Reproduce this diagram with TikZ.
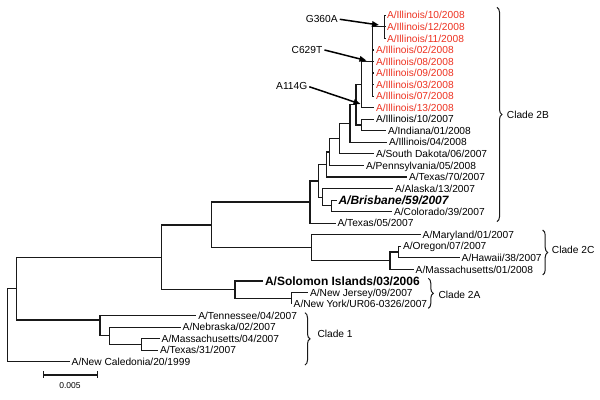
\documentclass[tikz,border=0pt]{standalone}
\usepackage{fontspec}
\setmainfont{Liberation Sans}
\usetikzlibrary{arrows.meta,decorations.pathreplacing}
\definecolor{illred}{RGB}{238,52,35}
\definecolor{treeline}{RGB}{25,25,25}
\newcommand\leaffont{\fontsize{10.2}{12}\selectfont}
\newcommand\bigleaffont{\fontsize{12}{14}\selectfont\bfseries}
\newcommand\barfont{\fontsize{8.5}{10}\selectfont}
\begin{document}
\begin{tikzpicture}[x=1pt,y=-11.55pt,
  leaf/.style={anchor=west,inner sep=0pt,outer xsep=2pt,font=\leaffont,text height=7.3pt,text depth=0pt},
  hl/.style={leaf,text=illred},
  bigleaf/.style={leaf,font=\bigleaffont,text height=8.6pt},
  br/.style={line width=1.2pt,draw=treeline},
  lab/.style={inner sep=0pt,font=\leaffont,text height=7.3pt,text depth=0pt},
  cladelab/.style={lab,anchor=west},
  arr/.style={line width=1.5pt,-{Triangle[length=7pt,width=5.5pt]},shorten <=2pt},
  clbrace/.style={decorate,decoration={brace,amplitude=5pt},line width=1pt,draw=treeline}]
\useasboundingbox[fill=white] (0,-0.3247) rectangle (600,34.307);

% ---- leaves ----
\node[hl] (l1) at (385,1) {A/Illinois/10/2008};
\node[hl] (l2) at (385,2) {A/Illinois/12/2008};
\node[hl] (l3) at (385,3) {A/Illinois/11/2008};
\node[hl] (l4) at (374,4) {A/Illinois/02/2008};
\node[hl] (l5) at (374,5) {A/Illinois/08/2008};
\node[hl] (l6) at (374,6) {A/Illinois/09/2008};
\node[hl] (l7) at (374,7) {A/Illinois/03/2008};
\node[hl] (l8) at (374,8) {A/Illinois/07/2008};
\node[hl] (l9) at (374,9) {A/Illinois/13/2008};
\node[leaf] (l10) at (374,10) {A/Illinois/10/2007};
\node[leaf] (l11) at (386,11) {A/Indiana/01/2008};
\node[leaf] (l12) at (387,12) {A/Illinois/04/2008};
\node[leaf] (l13) at (374,13) {A/South Dakota/06/2007};
\node[leaf] (l14) at (364,14) {A/Pennsylvania/05/2008};
\node[leaf] (l15) at (407,15) {A/Texas/70/2007};
\node[leaf] (l16) at (393,16) {A/Alaska/13/2007};
\node[bigleaf,font=\bigleaffont\itshape] (l17) at (336.5,17) {A/Brisbane/59/2007};
\node[leaf] (l18) at (392,18) {A/Colorado/39/2007};
\node[leaf] (l19) at (335.5,19) {A/Texas/05/2007};
\node[leaf] (l20) at (420.7,20) {A/Maryland/01/2007};
\node[leaf] (l21) at (401,21) {A/Oregon/07/2007};
\node[leaf] (l22) at (459.7,22) {A/Hawaii/38/2007};
\node[leaf] (l23) at (413.7,23) {A/Massachusetts/01/2008};
\node[bigleaf] (l24) at (263,24) {A/Solomon Islands/03/2006};
\node[leaf] (l25) at (308,25) {A/New Jersey/09/2007};
\node[leaf] (l26) at (291.7,26) {A/New York/UR06-0326/2007};
\node[leaf] (l27) at (196.3,27) {A/Tennessee/04/2007};
\node[leaf] (l28) at (180.7,28) {A/Nebraska/02/2007};
\node[leaf] (l29) at (159.7,29) {A/Massachusetts/04/2007};
\node[leaf] (l30) at (158,30) {A/Texas/31/2007};
\node[leaf] (l31) at (69.7,31) {A/New Caledonia/20/1999};

% ---- internal nodes ----
\coordinate (G) at (384.5,2);
\coordinate (N8) at (372.3,5);
\coordinate (C) at (361.7,7);
\coordinate (P) at (361.7,10.5);
\coordinate (Q) at (356,8.75);
\coordinate (R) at (350,10.375);
\coordinate (S) at (339.3,11.69);
\coordinate (T) at (329.3,12.84);
\coordinate (U) at (326.7,13.92);
\coordinate (X) at (331.7,17.5);
\coordinate (W) at (322.7,16.75);
\coordinate (Y) at (318.3,15.34);
\coordinate (Z) at (310,17.17);
\coordinate (OH) at (398.3,21.5);
\coordinate (M) at (390,22.25);
\coordinate (C2C) at (311.7,21.125);
\coordinate (K) at (211.7,19.15);
\coordinate (NN) at (291.7,25.5);
\coordinate (A2) at (235,24.75);
\coordinate (H) at (161.7,21.95);
\coordinate (Cc) at (141.7,29.5);
\coordinate (B) at (109.3,28.75);
\coordinate (A1) at (100,27.375);
\coordinate (I) at (16.7,24.66);
\coordinate (Root) at (7.3,27.83);

% ---- branches to leaves ----
\foreach \p/\c in {G/l1,G/l2,G/l3,N8/l4,N8/l5,N8/l6,N8/l7,N8/l8,C/l9,P/l10,P/l11,
  R/l12,S/l13,T/l14,U/l15,W/l16,X/l17,X/l18,Z/l19,C2C/l20,OH/l21,OH/l22,M/l23,
  A2/l24,NN/l25,NN/l26,A1/l27,B/l28,Cc/l29,Cc/l30,Root/l31}
  \draw[br] (\p) |- (\c.west);
% ---- internal branches ----
\foreach \p/\c in {N8/G,C/N8,Q/C,Q/P,R/Q,S/R,T/S,U/T,Y/U,W/X,Y/W,Z/Y,M/OH,C2C/M,
  K/Z,K/C2C,A2/NN,H/K,H/A2,B/Cc,A1/B,I/H,I/A1,Root/I}
  \draw[br] (\p) |- (\c);

% ---- mutation arrows ----
\node[lab] (g360) at (321.7,1.32) {G360A};
\node[lab] (c629) at (307,3.96) {C629T};
\node[lab] (a114) at (291.7,7.13) {A114G};
\coordinate (tG) at (379,1.84);
\coordinate (tC) at (366.5,4.92);
\coordinate (tA) at (360.5,8.68);
\draw[arr] (g360.east) -- (tG);
\draw[arr] (c629.east) -- (tC);
\draw[arr] (a114.east) -- (tA);

% ---- clade braces ----
\coordinate (b2Bt) at (497,0.308);
\coordinate (b2Bb) at (497,18.87);
\coordinate (b2Ct) at (542.7,19.59);
\coordinate (b2Cb) at (542.7,23.48);
\coordinate (b2At) at (428.3,23.77);
\coordinate (b2Ab) at (428.3,26.37);
\coordinate (b1t) at (305,26.75);
\coordinate (b1b) at (305,31.28);
\draw[clbrace] (b2Bt) -- (b2Bb);
\draw[clbrace] (b2Ct) -- (b2Cb);
\draw[clbrace] (b2At) -- (b2Ab);
\draw[clbrace] (b1t) -- (b1b);
\node[cladelab] (c2B) at (506.7,9.63) {Clade 2B};
\node[cladelab] (c2C) at (551.7,21.32) {Clade 2C};
\node[cladelab] (c2A) at (438.3,25.2) {Clade 2A};
\node[cladelab] (c1) at (317.3,28.62) {Clade 1};

% ---- scale bar ----
\coordinate (sbL) at (43.3,32.14);
\coordinate (sbR) at (97.3,32.14);
\draw[line width=1.2pt,draw=treeline] (sbL) -- (sbR);
\draw[line width=1.2pt,draw=treeline] ([yshift=3.5pt]sbL) -- ([yshift=-3.5pt]sbL);
\draw[line width=1.2pt,draw=treeline] ([yshift=3.5pt]sbR) -- ([yshift=-3.5pt]sbR);
\node[inner sep=0pt,font=\barfont] (sbt) at (70,33.09) {0.005};
\end{tikzpicture}
\end{document}
